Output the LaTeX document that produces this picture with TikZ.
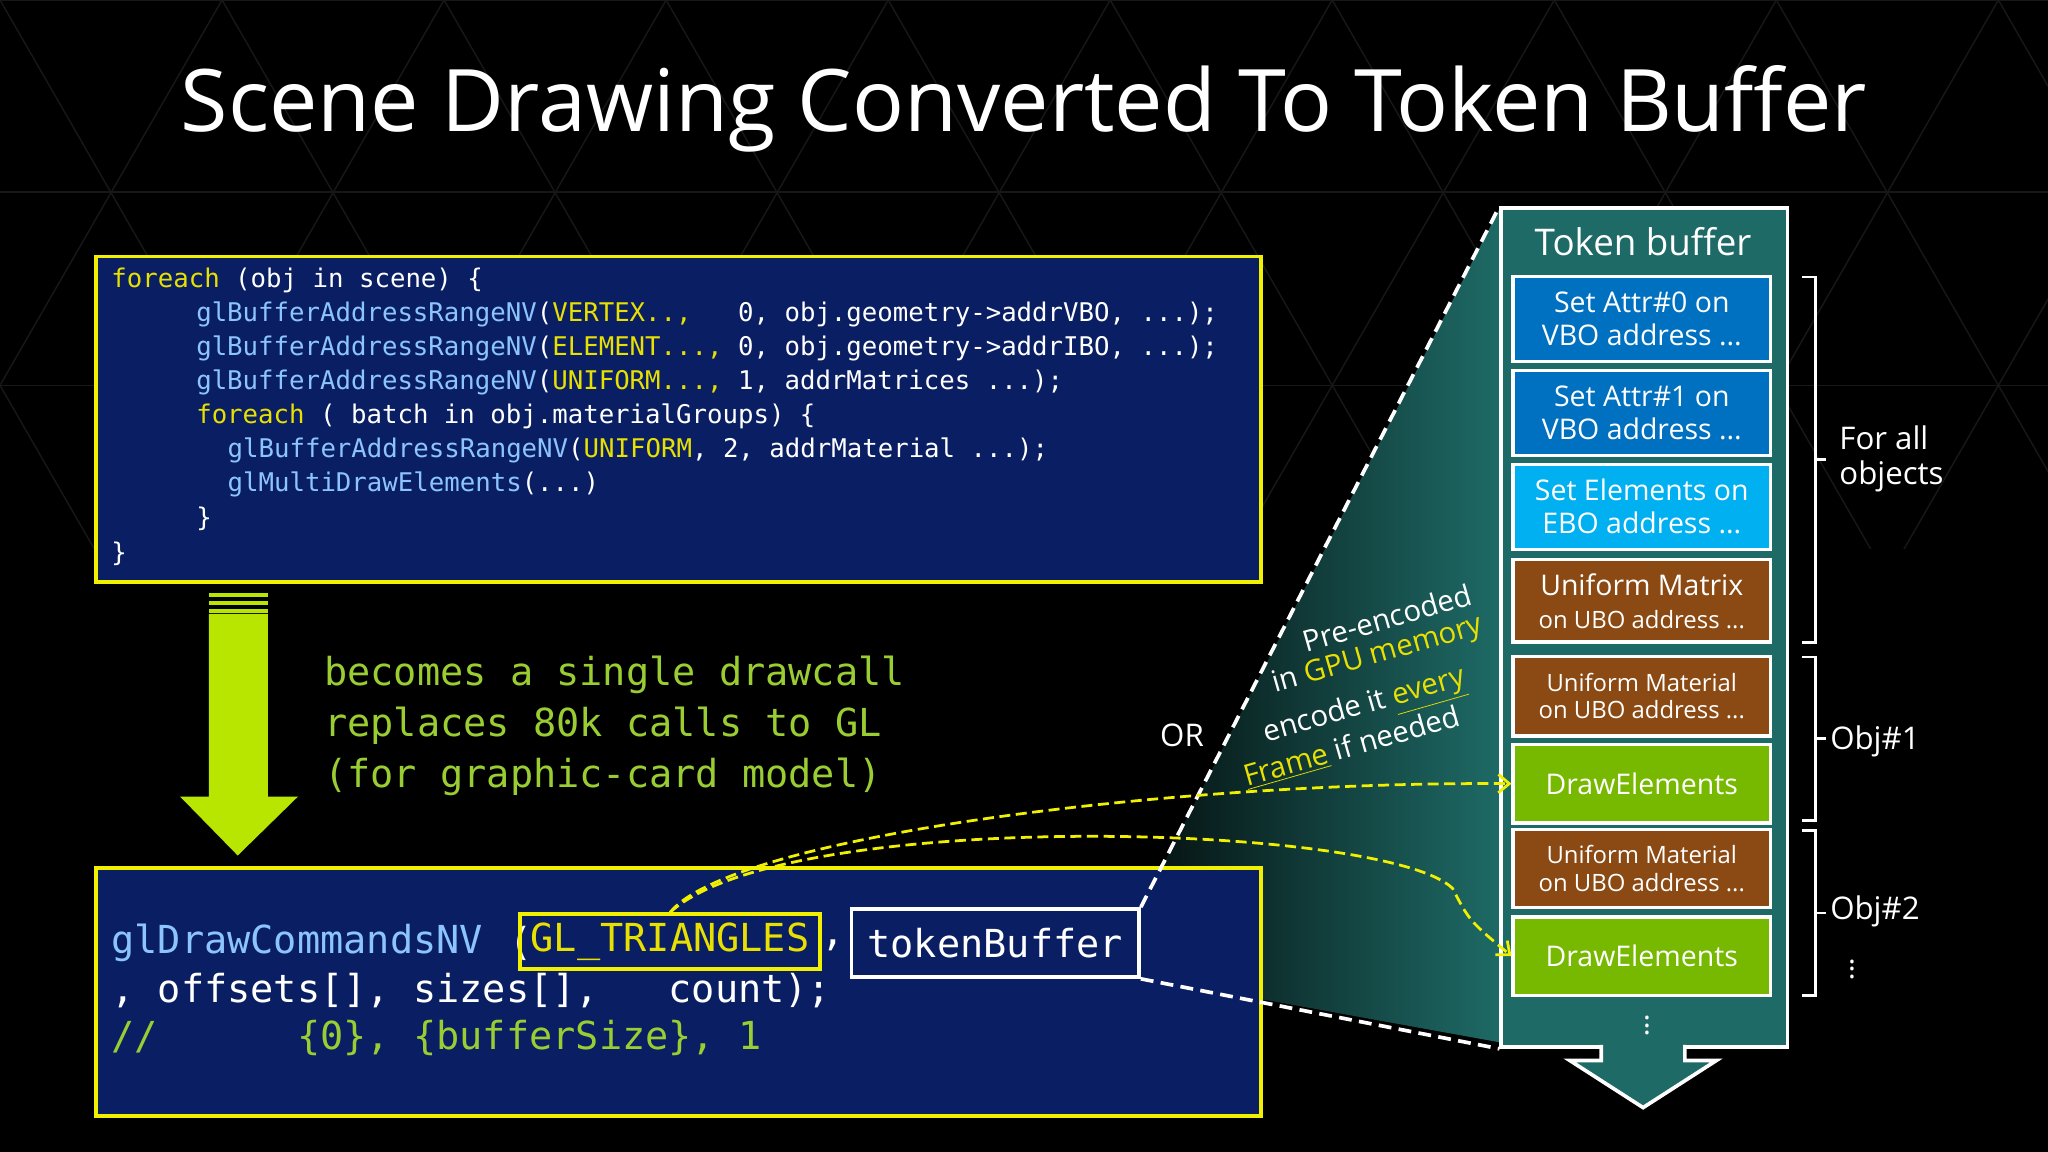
\documentclass[tikz,border=0pt]{standalone}
\usepackage{fontspec}
\setmainfont{Open Sans}
\newfontfamily\mono{DejaVu Sans Mono}
\usetikzlibrary{arrows.meta,shadings}
\definecolor{bgblue}{HTML}{0A1F63}
\definecolor{ylw}{HTML}{F0F000}
\definecolor{kwy}{HTML}{E8E000}
\definecolor{fnb}{HTML}{8CC4FF}
\definecolor{lime}{HTML}{B8E600}
\definecolor{grn}{HTML}{9ACD32}
\definecolor{teal}{HTML}{1E6A66}
\definecolor{tblue}{HTML}{0070C0}
\definecolor{tcyan}{HTML}{00B0F0}
\definecolor{tbrown}{HTML}{8B4A14}
\definecolor{tgreen}{HTML}{76B900}
\newcommand\kw[1]{\textcolor{kwy}{#1}}
\newcommand\fn[1]{\textcolor{fnb}{#1}}
\newcommand\brk[2]{\draw[white,line width=1.5pt] (1380,#1) -- (1390,#1) -- (1390,#2) -- (1380,#2);
  \draw[white,line width=1.5pt] (1390,{(#1+#2)/2}) -- (1398,{(#1+#2)/2});}
\def\pxu{0.7113pt}
\begin{document}
\begin{tikzpicture}[x=0.025cm,y=-0.025cm,
  code/.style={anchor=west,inner sep=0,text=white,font=\mono\fontsize{14}{14}\selectfont},
  big/.style={anchor=west,inner sep=0,font=\mono\fontsize{21}{21}\selectfont},
  tok/.style={draw=white,line width=1.8pt,minimum width=197*\pxu,text=white,align=center,inner sep=0,font=\fontsize{15.5}{18}\selectfont},
  sm/.style={font=\fontsize{13}{15}\selectfont},
  rt/.style={rotate=16,text=white,inner sep=0,font=\fontsize{16}{16}\selectfont},
  yd/.style={ylw,dashed,line width=1.5pt,dash pattern=on 6pt off 3pt,-{Straight Barb[length=6pt,width=10pt]}}]
\fill[black] (0,0) rectangle (1568,882);
\useasboundingbox (0,0) rectangle (1568,882);
% faint triangle pattern
\begin{scope}
\clip (0,0) rectangle (1568,420);
\foreach \i in {-6,...,12}{
  \draw[gray!18!black,line width=0.8pt] (\i*170,0) -- ++(340,590);
  \draw[gray!18!black,line width=0.8pt] (\i*170+340,0) -- ++(-340,590);}
\foreach \j in {0,147,295}{\draw[gray!18!black,line width=0.8pt] (0,\j) -- (1568,\j);}
\end{scope}
% title
\node[text=white,font=\fontsize{47}{47}\selectfont] (title) at (784,83) {Scene Drawing Converted To Token Buffer};
% code box 1
\node[draw=ylw,fill=bgblue,line width=2pt,minimum width=892*\pxu,minimum height=249*\pxu,anchor=north west,inner sep=0] (box1) at (72,195) {};
\node[code] (c1) at (85,215) {\kw{foreach} (obj in scene) \{};
\node[code] (c2) at (150,241) {\fn{glBufferAddressRangeNV}(\kw{VERTEX..,}\ \ \ 0, obj.geometry->addrVBO, ...);};
\node[code] (c3) at (150,267) {\fn{glBufferAddressRangeNV}(\kw{ELEMENT...,} 0, obj.geometry->addrIBO, ...);};
\node[code] (c4) at (150,293) {\fn{glBufferAddressRangeNV}(\kw{UNIFORM...,} 1, addrMatrices ...);};
\node[code] (c5) at (150,319) {\kw{foreach} ( batch in obj.materialGroups) \{};
\node[code] (c6) at (174,345) {\fn{glBufferAddressRangeNV}(\kw{UNIFORM}, 2, addrMaterial ...);};
\node[code] (c7) at (174,371) {\fn{glMultiDrawElements}(...)};
\node[code] (c8) at (150,397) {\}};
\node[code] (c9) at (85,424) {\}};
% big arrow
\fill[lime] (160,470) -- (205,470) -- (205,610) -- (228,610) -- (182,655) -- (138,610) -- (160,610) -- cycle;
\foreach \yy in {454,460,466}{\fill[lime] (160,\yy) rectangle (205,\yy+3);}
\node[big,text=grn] (b1) at (248,517) {becomes a single drawcall};
\node[big,text=grn] (b2) at (248,556) {replaces 80k calls to GL};
\node[big,text=grn] (b3) at (248,595) {(for graphic-card model)};
% cone gradient
\shade[left color=black!85!teal,right color=teal] (872,698) -- (1148,160) -- (1148,798) -- (872,748) -- cycle;
% box 2
\node[draw=ylw,fill=bgblue,line width=2pt,minimum width=892*\pxu,minimum height=190*\pxu,anchor=north west,inner sep=0] (box2) at (72,663) {};
\node[big,text=fnb] (d1) at (85,722) {glDrawCommandsNV};
\node[big,text=white] (d2) at (85,758) {, offsets[], sizes[],\ \ \ count);};
\node[big,text=grn] (d3) at (85,795) {//\ \ \ \ \ \ \{0\}, \{bufferSize\}, 1};
\node[big,text=white] (dp) at (390,722) {(};
\node[draw=ylw,line width=2pt,minimum width=230*\pxu,minimum height=42*\pxu,inner sep=0,text=kwy,font=\mono\fontsize{21}{21}\selectfont] (gltri) at (513,721) {GL\_TRIANGLES};
\node[big,text=white] (dc) at (629,724) {,};
\node[draw=white,line width=2pt,minimum width=220*\pxu,minimum height=52*\pxu,inner sep=0,text=white,font=\mono\fontsize{21}{21}\selectfont] (tb) at (762,722) {tokenBuffer};
% token buffer panel
\node[draw=white,fill=teal,line width=2pt,minimum width=219*\pxu,minimum height=642*\pxu,anchor=north west,inner sep=0] (panel) at (1148,158) {};
\node[text=white,font=\fontsize{20}{20}\selectfont] (ptitle) at (1258,185) {Token buffer};
\node[tok,fill=tblue,minimum height=65*\pxu] (t1) at (1257,244) {Set Attr\#0 on\\VBO address ...};
\node[tok,fill=tblue,minimum height=65*\pxu] (t2) at (1257,316) {Set Attr\#1 on\\VBO address ...};
\node[tok,fill=tcyan,minimum height=65*\pxu] (t3) at (1257,388) {Set Elements on\\EBO address ...};
\node[tok,fill=tbrown,minimum height=63*\pxu] (t4) at (1257,460) {Uniform Matrix\\{\fontsize{13}{15}\selectfont on UBO address ...}};
\node[tok,fill=tbrown,minimum height=61*\pxu,sm] (t5) at (1257,533) {Uniform Material\\on UBO address ...};
\node[tok,fill=tgreen,minimum height=60*\pxu] (t6) at (1257,600) {DrawElements};
\node[tok,fill=tbrown,minimum height=60*\pxu,sm] (t7) at (1257,665) {Uniform Material\\on UBO address ...};
\node[tok,fill=tgreen,minimum height=60*\pxu] (t8) at (1257,732) {DrawElements};
\node[text=white,font=\fontsize{16}{16}\selectfont] (pd) at (1261,781) {\vdots};
\fill[teal,draw=white,line width=2pt] (1226,800) -- (1226,812) -- (1202,812) -- (1258,848) -- (1314,812) -- (1290,812) -- (1290,800);
% cone edges
\draw[white,line width=2pt,dash pattern=on 7pt off 4pt] (tb.north east) -- (panel.north west);
\draw[white,line width=2pt,dash pattern=on 7pt off 4pt] (tb.south east) -- (panel.south west);
% brackets
\brk{212}{492}
\brk{503}{628}
\brk{636}{762}
\node[text=white,anchor=west,align=left,inner sep=0,font=\fontsize{17}{19}\selectfont] (fa) at (1408,351) {For all\\objects};
\node[text=white,anchor=west,inner sep=0,font=\fontsize{17}{17}\selectfont] (o1) at (1401,568) {Obj\#1};
\node[text=white,anchor=west,inner sep=0,font=\fontsize{17}{17}\selectfont] (o2) at (1401,698) {Obj\#2};
\node[text=white,font=\fontsize{16}{16}\selectfont] (od) at (1418,738) {\vdots};
% rotated text
\node[rt] (r1) at (1062,473) {Pre-encoded};
\node[rt] (r2) at (1055,502) {in \textcolor{kwy}{GPU memory}};
\node[rt] (r3) at (1045,542) {encode it \textcolor{kwy}{\underline{every}}};
\node[rt] (r4) at (1035,572) {\textcolor{kwy}{\underline{Frame}} if needed};
\node[text=white,font=\fontsize{17}{17}\selectfont] (or) at (905,563) {OR};
% yellow dashed curves
\draw[yd] (gltri.north) .. controls (560,640) and (900,598) .. (t6.west);
\draw[yd] (gltri.north) .. controls (600,618) and (1060,630) .. (1112,680) .. controls (1125,705) .. (t8.west);
\end{tikzpicture}
\end{document}
